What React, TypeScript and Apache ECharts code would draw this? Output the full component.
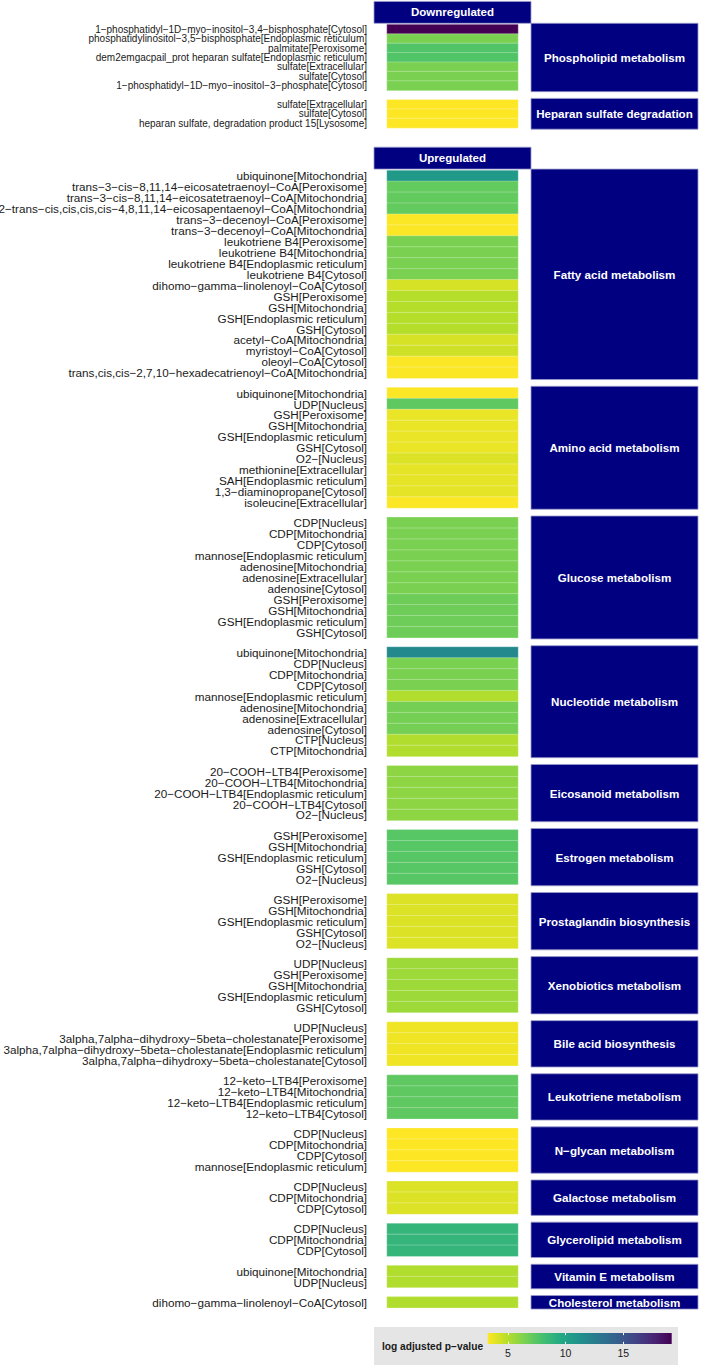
import React, { useEffect, useRef } from "react";
import * as echarts from "echarts";

// ---------- data ----------
const directions = ["Downregulated", "Upregulated"];

const phospholipidLabels = [
  "1-phosphatidyl-1D-myo-inositol-3,4-bisphosphate[Cytosol]",
  "phosphatidylinositol-3,5-bisphosphate[Endoplasmic reticulum]",
  "palmitate[Peroxisome]",
  "dem2emgacpail_prot heparan sulfate[Endoplasmic reticulum]",
  "sulfate[Extracellular]",
  "sulfate[Cytosol]",
  "1-phosphatidyl-1D-myo-inositol-3-phosphate[Cytosol]",
];
const phospholipidValues = [19.2, 6.45, 7.6, 7.6, 6.45, 6.45, 6.45];

const heparanLabels = [
  "sulfate[Extracellular]",
  "sulfate[Cytosol]",
  "heparan sulfate, degradation product 15[Lysosome]",
];
const heparanValues = [3.25, 3.25, 3.25];

const fattyLabels = [
  "ubiquinone[Mitochondria]",
  "trans-3-cis-8,11,14-eicosatetraenoyl-CoA[Peroxisome]",
  "trans-3-cis-8,11,14-eicosatetraenoyl-CoA[Mitochondria]",
  "2-trans-cis,cis,cis,cis-4,8,11,14-eicosapentaenoyl-CoA[Mitochondria]",
  "trans-3-decenoyl-CoA[Peroxisome]",
  "trans-3-decenoyl-CoA[Mitochondria]",
  "leukotriene B4[Peroxisome]",
  "leukotriene B4[Mitochondria]",
  "leukotriene B4[Endoplasmic reticulum]",
  "leukotriene B4[Cytosol]",
  "dihomo-gamma-linolenoyl-CoA[Cytosol]",
  "GSH[Peroxisome]",
  "GSH[Mitochondria]",
  "GSH[Endoplasmic reticulum]",
  "GSH[Cytosol]",
  "acetyl-CoA[Mitochondria]",
  "myristoyl-CoA[Cytosol]",
  "oleoyl-CoA[Cytosol]",
  "trans,cis,cis-2,7,10-hexadecatrienoyl-CoA[Mitochondria]",
];
const fattyValues = [10.6, 7.1, 7.1, 7.1, 3.3, 3.3, 6.45, 6.45, 6.45, 6.45, 4.2, 5.0, 5.0, 5.0, 5.0, 4.2, 4.35, 3.3, 3.3];

const aminoLabels = [
  "ubiquinone[Mitochondria]",
  "UDP[Nucleus]",
  "GSH[Peroxisome]",
  "GSH[Mitochondria]",
  "GSH[Endoplasmic reticulum]",
  "GSH[Cytosol]",
  "O2-[Nucleus]",
  "methionine[Extracellular]",
  "SAH[Endoplasmic reticulum]",
  "1,3-diaminopropane[Cytosol]",
  "isoleucine[Extracellular]",
];
const aminoValues = [3.3, 7.2, 3.7, 3.7, 3.7, 3.7, 4.05, 3.8, 3.8, 3.8, 3.3];

const glucoseLabels = [
  "CDP[Nucleus]",
  "CDP[Mitochondria]",
  "CDP[Cytosol]",
  "mannose[Endoplasmic reticulum]",
  "adenosine[Mitochondria]",
  "adenosine[Extracellular]",
  "adenosine[Cytosol]",
  "GSH[Peroxisome]",
  "GSH[Mitochondria]",
  "GSH[Endoplasmic reticulum]",
  "GSH[Cytosol]",
];
const glucoseValues = [6.45, 6.45, 6.45, 6.45, 6.45, 6.45, 6.45, 6.8, 6.8, 6.8, 6.8];

const nucleotideLabels = [
  "ubiquinone[Mitochondria]",
  "CDP[Nucleus]",
  "CDP[Mitochondria]",
  "CDP[Cytosol]",
  "mannose[Endoplasmic reticulum]",
  "adenosine[Mitochondria]",
  "adenosine[Extracellular]",
  "adenosine[Cytosol]",
  "CTP[Nucleus]",
  "CTP[Mitochondria]",
];
const nucleotideValues = [11.7, 6.45, 6.45, 6.45, 5.1, 6.6, 6.6, 6.6, 5.1, 5.1];

const eicosanoidLabels = [
  "20-COOH-LTB4[Peroxisome]",
  "20-COOH-LTB4[Mitochondria]",
  "20-COOH-LTB4[Endoplasmic reticulum]",
  "20-COOH-LTB4[Cytosol]",
  "O2-[Nucleus]",
];
const eicosanoidValues = [5.95, 5.95, 5.95, 5.95, 5.95];

const estrogenLabels = [
  "GSH[Peroxisome]",
  "GSH[Mitochondria]",
  "GSH[Endoplasmic reticulum]",
  "GSH[Cytosol]",
  "O2-[Nucleus]",
];
const estrogenValues = [7.45, 7.45, 7.45, 7.45, 7.45];

const prostaglandinLabels = [
  "GSH[Peroxisome]",
  "GSH[Mitochondria]",
  "GSH[Endoplasmic reticulum]",
  "GSH[Cytosol]",
  "O2-[Nucleus]",
];
const prostaglandinValues = [4.05, 4.05, 4.05, 4.05, 4.05];

const xenobioticsLabels = [
  "UDP[Nucleus]",
  "GSH[Peroxisome]",
  "GSH[Mitochondria]",
  "GSH[Endoplasmic reticulum]",
  "GSH[Cytosol]",
];
const xenobioticsValues = [5.55, 5.55, 5.55, 5.55, 5.55];

const bileLabels = [
  "UDP[Nucleus]",
  "3alpha,7alpha-dihydroxy-5beta-cholestanate[Peroxisome]",
  "3alpha,7alpha-dihydroxy-5beta-cholestanate[Endoplasmic reticulum]",
  "3alpha,7alpha-dihydroxy-5beta-cholestanate[Cytosol]",
];
const bileValues = [3.6, 3.6, 3.6, 3.6];

const leukotrieneLabels = [
  "12-keto-LTB4[Peroxisome]",
  "12-keto-LTB4[Mitochondria]",
  "12-keto-LTB4[Endoplasmic reticulum]",
  "12-keto-LTB4[Cytosol]",
];
const leukotrieneValues = [7.2, 7.2, 7.2, 7.2];

const nglycanLabels = ["CDP[Nucleus]", "CDP[Mitochondria]", "CDP[Cytosol]", "mannose[Endoplasmic reticulum]"];
const nglycanValues = [3.25, 3.25, 3.25, 3.25];

const galactoseLabels = ["CDP[Nucleus]", "CDP[Mitochondria]", "CDP[Cytosol]"];
const galactoseValues = [4.05, 4.05, 4.05];

const glycerolipidLabels = ["CDP[Nucleus]", "CDP[Mitochondria]", "CDP[Cytosol]"];
const glycerolipidValues = [8.7, 8.7, 8.7];

const vitaminELabels = ["ubiquinone[Mitochondria]", "UDP[Nucleus]"];
const vitaminEValues = [5.1, 5.1];

const cholesterolLabels = ["dihomo-gamma-linolenoyl-CoA[Cytosol]"];
const cholesterolValues = [5.1];

const legendTicks = [5, 10, 15];
const legendTitle = "log adjusted p-value";

const downPanels = [
  { name: "Phospholipid metabolism", labels: phospholipidLabels, values: phospholipidValues },
  { name: "Heparan sulfate degradation", labels: heparanLabels, values: heparanValues },
];
const upPanels = [
  { name: "Fatty acid metabolism", labels: fattyLabels, values: fattyValues },
  { name: "Amino acid metabolism", labels: aminoLabels, values: aminoValues },
  { name: "Glucose metabolism", labels: glucoseLabels, values: glucoseValues },
  { name: "Nucleotide metabolism", labels: nucleotideLabels, values: nucleotideValues },
  { name: "Eicosanoid metabolism", labels: eicosanoidLabels, values: eicosanoidValues },
  { name: "Estrogen metabolism", labels: estrogenLabels, values: estrogenValues },
  { name: "Prostaglandin biosynthesis", labels: prostaglandinLabels, values: prostaglandinValues },
  { name: "Xenobiotics metabolism", labels: xenobioticsLabels, values: xenobioticsValues },
  { name: "Bile acid biosynthesis", labels: bileLabels, values: bileValues },
  { name: "Leukotriene metabolism", labels: leukotrieneLabels, values: leukotrieneValues },
  { name: "N-glycan metabolism", labels: nglycanLabels, values: nglycanValues },
  { name: "Galactose metabolism", labels: galactoseLabels, values: galactoseValues },
  { name: "Glycerolipid metabolism", labels: glycerolipidLabels, values: glycerolipidValues },
  { name: "Vitamin E metabolism", labels: vitaminELabels, values: vitaminEValues },
  { name: "Cholesterol metabolism", labels: cholesterolLabels, values: cholesterolValues },
];

// viridis, reversed (low = yellow, high = purple)
const viridis = [
  "#440154", "#482576", "#414487", "#35608D", "#2A788E", "#21908C",
  "#22A884", "#43BF71", "#7AD151", "#BBDF27", "#FDE725",
];
const palette = viridis.slice().reverse();

// ---------- layout ----------
const FONT = "'Liberation Sans', Arial, Helvetica, sans-serif";
const TILE_LEFT = 387;
const TILE_WIDTH = 131;
const HEADER_LEFT = 374;
const HEADER_WIDTH = 157;
const STRIP_LEFT = 531;
const STRIP_WIDTH = 167;
const NAVY = "#000080";
const STRIP_BORDER = "#9A9ACC";
const groupsLayout = [
  { title: directions[0], panels: downPanels, top: 24.6, rowH: 9.4, gap: 9.3, labelSize: 10 },
  { title: directions[1], panels: upPanels, top: 170.4, rowH: 10.94, gap: 9.35, labelSize: 11.7 },
];
const LEGEND_BOX = { x: 374, y: 1327, w: 304, h: 38 };
const BAR = { left: 487.7, top: 1333, width: 184, height: 11 };

const toMinus = (s: string) => s.replace(/-/g, "\u2212");

function buildOption() {
  const allValues = [...downPanels, ...upPanels].flatMap((p) => p.values);
  const vmin = Math.min(...allValues);
  const vmax = Math.max(...allValues);

  const grid: any[] = [];
  const xAxis: any[] = [];
  const yAxis: any[] = [];
  const series: any[] = [];
  const graphics: any[] = [];

  let idx = 0;
  groupsLayout.forEach((g) => {
    // header strip
    graphics.push({
      type: "rect",
      shape: { x: HEADER_LEFT, y: g.top - 23.2, width: HEADER_WIDTH, height: 21.9 },
      style: { fill: NAVY, stroke: STRIP_BORDER, lineWidth: 0.8 },
    });
    graphics.push({
      type: "text",
      style: {
        text: g.title,
        x: HEADER_LEFT + HEADER_WIDTH / 2,
        y: g.top - 12.2,
        fill: "#FFFFFF",
        font: `bold 11.5px ${FONT}`,
        align: "center",
        verticalAlign: "middle",
        textAlign: "center",
        textVerticalAlign: "middle",
      },
    });
    let y = g.top;
    g.panels.forEach((p) => {
      const h = p.labels.length * g.rowH;
      grid.push({ left: TILE_LEFT, top: y, width: TILE_WIDTH, height: h, containLabel: false, outerBoundsMode: "none" });
      xAxis.push({ type: "category", gridIndex: idx, data: ["value"], show: false });
      yAxis.push({
        type: "category",
        gridIndex: idx,
        data: p.labels,
        inverse: true,
        axisLine: { show: false },
        axisTick: { show: false },
        splitLine: { show: false },
        axisLabel: {
          interval: 0,
          fontSize: g.labelSize,
          fontFamily: FONT,
          color: "#1A1A1A",
          margin: 20,
          formatter: (s: string) => toMinus(s),
        },
      });
      series.push({
        type: "heatmap",
        xAxisIndex: idx,
        yAxisIndex: idx,
        data: p.values.map((v, j) => [0, j, v]),
        itemStyle: { borderColor: "rgba(255,255,255,0.45)", borderWidth: 0.6 },
        emphasis: { disabled: true },
        silent: true,
      });
      // facet strip on the right
      graphics.push({
        type: "rect",
        shape: { x: STRIP_LEFT, y: y - 1.3, width: STRIP_WIDTH, height: h + 2.6 },
        style: { fill: NAVY, stroke: STRIP_BORDER, lineWidth: 0.8 },
      });
      graphics.push({
        type: "text",
        style: {
          text: toMinus(p.name),
          x: STRIP_LEFT + STRIP_WIDTH / 2,
          y: y + h / 2,
          fill: "#FFFFFF",
          font: `bold 11.6px ${FONT}`,
          align: "center",
          verticalAlign: "middle",
          textAlign: "center",
          textVerticalAlign: "middle",
        },
      });
      y += h + g.gap;
      idx++;
    });
  });

  // legend background + title
  graphics.unshift({
    type: "rect",
    z: -10,
    shape: { x: LEGEND_BOX.x, y: LEGEND_BOX.y, width: LEGEND_BOX.w, height: LEGEND_BOX.h },
    style: { fill: "#E5E5E5" },
  });
  graphics.push({
    type: "text",
    style: {
      text: toMinus(legendTitle),
      x: 382,
      y: BAR.top + 13.5,
      fill: "#1A1A1A",
      font: `bold 10.2px ${FONT}`,
      align: "left",
      verticalAlign: "middle",
      textAlign: "left",
      textVerticalAlign: "middle",
    },
  });

  // colour bar grid
  const L = idx;
  grid.push({ left: BAR.left, top: BAR.top, width: BAR.width, height: BAR.height, containLabel: false, outerBoundsMode: "none" });
  const tickCommon = {
    type: "value",
    gridIndex: L,
    min: vmin,
    max: vmax,
    axisLine: { show: false },
    splitLine: { show: false },
    z: 10,
    axisTick: { show: true, inside: true, length: 2.2, lineStyle: { color: "#FFFFFF", width: 1 }, customValues: legendTicks },
  };
  xAxis.push({
    ...tickCommon,
    position: "bottom",
    axisLabel: { customValues: legendTicks, fontSize: 10.5, fontFamily: FONT, color: "#1A1A1A", margin: 3.5 },
  });
  xAxis.push({ ...tickCommon, position: "top", axisLabel: { show: false } });
  yAxis.push({ type: "value", gridIndex: L, min: 0, max: 1, show: false });

  const stops = palette.map((c, i) => ({ offset: i / (palette.length - 1), color: c }));
  series.push({
    type: "custom",
    xAxisIndex: L,
    yAxisIndex: L,
    silent: true,
    z: 2,
    data: [[vmin, vmax]],
    renderItem: (params: any, api: any) => {
      const p0 = api.coord([api.value(0), 0]);
      const p1 = api.coord([api.value(1), 1]);
      return {
        type: "rect",
        shape: { x: p0[0], y: p1[1], width: p1[0] - p0[0], height: p0[1] - p1[1] },
        style: { fill: new echarts.graphic.LinearGradient(0, 0, 1, 0, stops) },
      };
    },
  });

  return {
    animation: false,
    backgroundColor: "#FFFFFF",
    textStyle: { fontFamily: FONT },
    grid,
    xAxis,
    yAxis,
    visualMap: {
      type: "continuous",
      show: false,
      min: vmin,
      max: vmax,
      seriesIndex: series.map((s, i) => (s.type === "heatmap" ? i : -1)).filter((i) => i >= 0),
      inRange: { color: palette },
    },
    graphic: { elements: graphics },
    series,
  };
}

export default function App() {
  const ref = useRef<HTMLDivElement>(null);
  useEffect(() => {
    if (!ref.current) return;
    const chart = echarts.init(ref.current, undefined, { renderer: "svg" });
    chart.setOption(buildOption() as any);
    return () => chart.dispose();
  }, []);
  return (
    <div
      ref={ref}
      style={{ position: "absolute", left: 0, top: 0, width: 701, height: 1367 }}
    />
  );
}
